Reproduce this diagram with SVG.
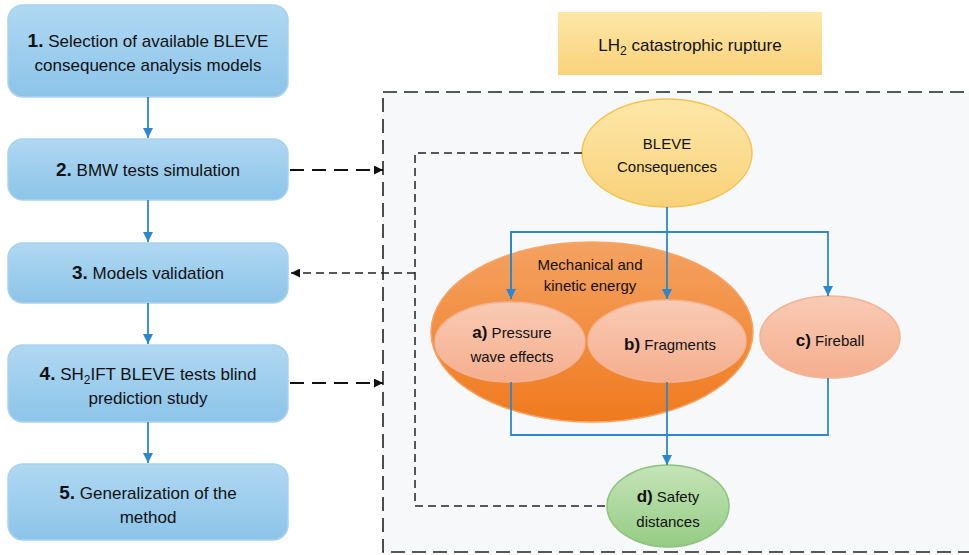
<svg xmlns="http://www.w3.org/2000/svg" width="969" height="555" viewBox="0 0 969 555">
<defs>
<linearGradient id="gBlue" x1="0" y1="0" x2="0" y2="1"><stop offset="0" stop-color="#b0d8f2"/><stop offset="1" stop-color="#8cc4e9"/></linearGradient>
<linearGradient id="gYel" x1="0" y1="0" x2="0" y2="1"><stop offset="0" stop-color="#fde7a8"/><stop offset="1" stop-color="#f9d27a"/></linearGradient>
<linearGradient id="gOr" x1="0" y1="0" x2="0" y2="1"><stop offset="0" stop-color="#f4a261"/><stop offset="1" stop-color="#f07a1e"/></linearGradient>
<linearGradient id="gSal" x1="0" y1="0" x2="0" y2="1"><stop offset="0" stop-color="#f9cbb4"/><stop offset="1" stop-color="#f5ae8e"/></linearGradient>
<linearGradient id="gGr" x1="0" y1="0" x2="0" y2="1"><stop offset="0" stop-color="#c5e4b8"/><stop offset="1" stop-color="#95cc84"/></linearGradient>
<marker id="aBlue" viewBox="0 0 10 10" refX="10" refY="5" markerWidth="10" markerHeight="10" markerUnits="userSpaceOnUse" orient="auto"><path d="M0,0 L10,5 L0,10 Z" fill="#2b88cf"/></marker>
<marker id="aBlk" viewBox="0 0 10 10" refX="10" refY="5" markerWidth="9" markerHeight="9" markerUnits="userSpaceOnUse" orient="auto"><path d="M0,0 L10,5 L0,10 Z" fill="#111"/></marker>
</defs>
<style>
text{font-family:"Liberation Sans",Arial,sans-serif;fill:#111;text-anchor:middle}
.lt{font-size:17px}
.rt{font-size:15px}
.b{font-weight:bold}
.box{fill:url(#gBlue);stroke:#a8d2ee;stroke-width:1.5}
.sal{fill:url(#gSal);stroke:#f3b597;stroke-width:1.5}
.blue{fill:none;stroke:#2b88cf;stroke-width:1.8}
.dl{fill:none;stroke:#111;stroke-width:2;stroke-dasharray:14 8}
.ds{fill:none;stroke:#222;stroke-width:1.5;stroke-dasharray:8 5}
</style>

<g id="frame">
<rect x="383" y="92" width="600" height="460" fill="#f6f8f9" stroke="#222" stroke-width="1.6" stroke-dasharray="14 7"/>
</g>

<g id="rupture">
<rect x="558" y="12" width="264" height="63" fill="url(#gYel)"/>
<text x="690" y="51" font-size="17">LH<tspan dy="4" font-size="12">2</tspan><tspan dy="-4"> catastrophic rupture</tspan></text>
</g>

<g id="n1"><rect class="box" x="8" y="5" width="280" height="92" rx="15"/>
<text class="lt" x="148" y="47"><tspan class="b" font-size="19">1.</tspan> Selection of available BLEVE</text>
<text class="lt" x="148" y="71">consequence analysis models</text></g>
<g id="n2"><rect class="box" x="8" y="139" width="280" height="61" rx="15"/>
<text class="lt" x="148" y="176"><tspan class="b" font-size="19">2.</tspan> BMW tests simulation</text></g>
<g id="n3"><rect class="box" x="8" y="243" width="280" height="60" rx="15"/>
<text class="lt" x="148" y="279"><tspan class="b" font-size="19">3.</tspan> Models validation</text></g>
<g id="n4"><rect class="box" x="8" y="345" width="280" height="77" rx="15"/>
<text class="lt" x="148" y="380"><tspan class="b" font-size="19">4.</tspan> SH<tspan dy="4" font-size="12">2</tspan><tspan dy="-4">IFT BLEVE tests blind</tspan></text>
<text class="lt" x="148" y="404">prediction study</text></g>
<g id="n5"><rect class="box" x="8" y="464" width="280" height="76" rx="15"/>
<text class="lt" x="148" y="499"><tspan class="b" font-size="19">5.</tspan> Generalization of the</text>
<text class="lt" x="148" y="523">method</text></g>

<g id="energy"><ellipse cx="592" cy="332" rx="161" ry="90" fill="url(#gOr)" stroke="#f5a56a" stroke-width="1.5"/>
<text class="rt" x="590" y="270">Mechanical and</text>
<text class="rt" x="590" y="291">kinetic energy</text></g>

<g id="bleve"><ellipse cx="667" cy="153" rx="85" ry="54" fill="url(#gYel)" stroke="#f5c352" stroke-width="1.5"/>
<text class="rt" x="667" y="149">BLEVE</text>
<text class="rt" x="667" y="172">Consequences</text></g>

<g id="na"><ellipse class="sal" cx="510" cy="342" rx="75" ry="40"/>
<text class="rt" x="512" y="338"><tspan class="b" font-size="17">a)</tspan> Pressure</text>
<text class="rt" x="512" y="362">wave effects</text></g>
<g id="nb"><ellipse class="sal" cx="667" cy="341" rx="79" ry="41"/>
<text class="rt" x="670" y="350"><tspan class="b" font-size="17">b)</tspan> Fragments</text></g>
<g id="nc"><ellipse class="sal" cx="830" cy="337" rx="70" ry="41"/>
<text class="rt" x="830" y="346"><tspan class="b" font-size="17">c)</tspan> Fireball</text></g>
<g id="nd"><ellipse cx="668" cy="506" rx="61" ry="41" fill="url(#gGr)" stroke="#8fc47e" stroke-width="1.5"/>
<text class="rt" x="668" y="502"><tspan class="b" font-size="17">d)</tspan> Safety</text>
<text class="rt" x="668" y="527">distances</text></g>

<g id="connectors">
<line class="blue" x1="148" y1="97" x2="148" y2="138" marker-end="url(#aBlue)"/>
<line class="blue" x1="148" y1="200" x2="148" y2="242" marker-end="url(#aBlue)"/>
<line class="blue" x1="148" y1="303" x2="148" y2="344" marker-end="url(#aBlue)"/>
<line class="blue" x1="148" y1="422" x2="148" y2="463" marker-end="url(#aBlue)"/>
<line class="blue" x1="667" y1="207" x2="667" y2="299" marker-end="url(#aBlue)"/>
<path class="blue" d="M511,299 V232 H828 V296" marker-end="url(#aBlue)"/>
<line class="blue" x1="511" y1="232" x2="511" y2="299" marker-end="url(#aBlue)"/>
<path class="blue" d="M511,382 V435 H828 V378"/>
<line class="blue" x1="667" y1="382" x2="667" y2="465" marker-end="url(#aBlue)"/>
<line class="dl" x1="290" y1="170" x2="383" y2="170" marker-end="url(#aBlk)"/>
<line class="dl" x1="290" y1="383" x2="383" y2="383" marker-end="url(#aBlk)"/>
<path class="ds" d="M582,153 H415 V506 H607"/>
<line class="ds" x1="415" y1="273" x2="291" y2="273" marker-end="url(#aBlk)"/>
</g>
</svg>
